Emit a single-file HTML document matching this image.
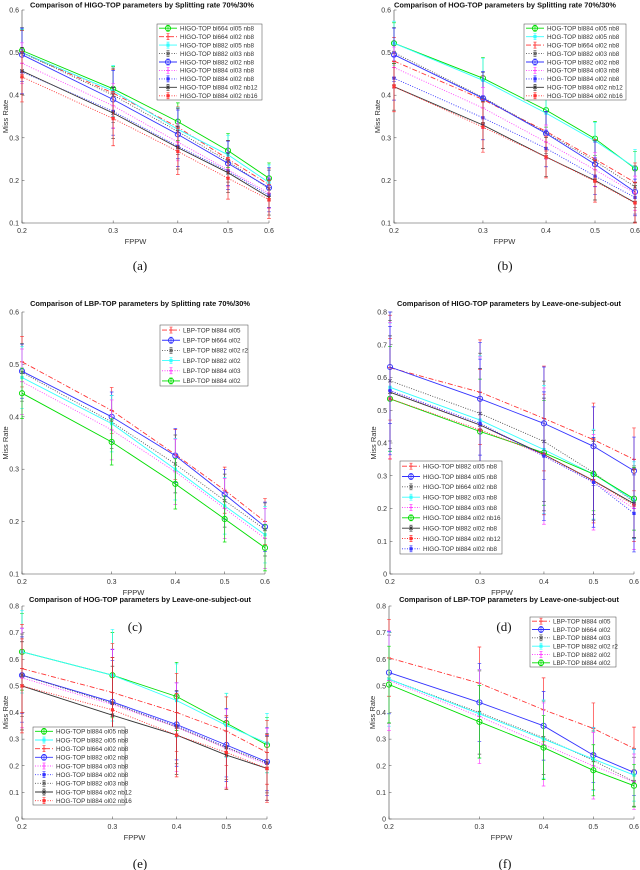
<!DOCTYPE html>
<html><head><meta charset="utf-8">
<style>
html,body{margin:0;padding:0;background:#fff;}
svg{display:block;font-family:"Liberation Sans",sans-serif;}
.cap{font-family:"Liberation Serif",serif;font-size:13px;}
</style></head>
<body>
<svg id="fig" width="640" height="870" viewBox="0 0 640 870" xmlns="http://www.w3.org/2000/svg"></svg>
<script>
// ---- data ----
const fppw = [0.2, 0.3, 0.4, 0.5, 0.6];
const xTickLabels = ["0.2","0.3","0.4","0.5","0.6"];
const yTicksA = [0.1,0.2,0.3,0.4,0.5,0.6];
const yTicksD = [0,0.1,0.2,0.3,0.4,0.5,0.6,0.7,0.8];

const aNames = ["HIGO-TOP bl664 ol05 nb8","HIGO-TOP bl664 ol02 nb8","HIGO-TOP bl882 ol05 nb8","HIGO-TOP bl882 ol03 nb8","HIGO-TOP bl882 ol02 nb8","HIGO-TOP bl884 ol03 nb8","HIGO-TOP bl884 ol02 nb8","HIGO-TOP bl884 ol02 nb12","HIGO-TOP bl884 ol02 nb16"];
const aVals = [
 [0.505,0.415,0.338,0.27,0.205],
 [0.5,0.405,0.325,0.25,0.19],
 [0.5,0.41,0.32,0.26,0.195],
 [0.5,0.4,0.315,0.245,0.18],
 [0.495,0.39,0.308,0.24,0.183],
 [0.475,0.375,0.29,0.225,0.17],
 [0.455,0.362,0.28,0.222,0.165],
 [0.457,0.358,0.277,0.218,0.16],
 [0.443,0.345,0.268,0.205,0.155]];
const aErr = [0.06,0.065,0.055,0.05,0.045];

const bNames = ["HOG-TOP bl884 ol05 nb8","HOG-TOP bl882 ol05 nb8","HOG-TOP bl664 ol02 nb8","HOG-TOP bl882 ol03 nb8","HOG-TOP bl882 ol02 nb8","HOG-TOP bl884 ol03 nb8","HOG-TOP bl884 ol02 nb8","HOG-TOP bl884 ol02 nb12","HOG-TOP bl884 ol02 nb16"];
const bVals = [
 [0.522,0.44,0.365,0.298,0.228],
 [0.522,0.435,0.358,0.293,0.23],
 [0.48,0.39,0.315,0.25,0.195],
 [0.5,0.395,0.312,0.245,0.185],
 [0.495,0.393,0.31,0.238,0.173],
 [0.465,0.37,0.29,0.225,0.17],
 [0.44,0.347,0.275,0.21,0.16],
 [0.42,0.33,0.255,0.2,0.148],
 [0.42,0.325,0.255,0.198,0.147]];
const bErr = [0.06,0.06,0.05,0.05,0.05];

const cNames = ["LBP-TOP bl884 ol05","LBP-TOP bl664 ol02","LBP-TOP bl882 ol02 r2","LBP-TOP bl882 ol02","LBP-TOP bl884 ol03","LBP-TOP bl884 ol02"];
const cVals = [
 [0.505,0.412,0.328,0.26,0.2],
 [0.487,0.4,0.326,0.252,0.19],
 [0.485,0.39,0.31,0.24,0.185],
 [0.475,0.387,0.3,0.23,0.175],
 [0.467,0.375,0.295,0.225,0.168],
 [0.445,0.352,0.272,0.205,0.15]];
const cErr = [0.06,0.055,0.06,0.055,0.055];

const dNames = ["HIGO-TOP bl882 ol05 nb8","HIGO-TOP bl884 ol05 nb8","HIGO-TOP bl664 ol02 nb8","HIGO-TOP bl882 ol03 nb8","HIGO-TOP bl884 ol03 nb8","HIGO-TOP bl884 ol02 nb16","HIGO-TOP bl882 ol02 nb8","HIGO-TOP bl884 ol02 nb12","HIGO-TOP bl884 ol02 nb8"];
const dVals = [
 [0.63,0.555,0.475,0.41,0.35],
 [0.632,0.535,0.46,0.39,0.315],
 [0.59,0.49,0.405,0.31,0.22],
 [0.57,0.47,0.38,0.305,0.225],
 [0.56,0.455,0.36,0.28,0.2],
 [0.535,0.435,0.37,0.305,0.23],
 [0.555,0.455,0.365,0.285,0.215],
 [0.535,0.44,0.365,0.285,0.21],
 [0.56,0.46,0.36,0.28,0.185]];
const dErr = [0.2,0.2,0.2,0.14,0.12];

const eNames = ["HOG-TOP bl884 ol05 nb8","HOG-TOP bl882 ol05 nb8","HOG-TOP bl664 ol02 nb8","HOG-TOP bl882 ol02 nb8","HOG-TOP bl884 ol03 nb8","HOG-TOP bl884 ol02 nb8","HOG-TOP bl882 ol03 nb8","HOG-TOP bl884 ol02 nb12","HOG-TOP bl884 ol02 nb16"];
const eVals = [
 [0.628,0.54,0.46,0.36,0.278],
 [0.628,0.54,0.445,0.352,0.285],
 [0.565,0.475,0.4,0.33,0.25],
 [0.54,0.44,0.355,0.278,0.215],
 [0.53,0.43,0.345,0.265,0.205],
 [0.54,0.435,0.35,0.27,0.21],
 [0.54,0.435,0.345,0.268,0.21],
 [0.5,0.39,0.315,0.24,0.19],
 [0.5,0.41,0.315,0.25,0.19]];
const eErr = [0.18,0.2,0.16,0.14,0.13];

const fNames = ["LBP-TOP bl884 ol05","LBP-TOP bl664 ol02","LBP-TOP bl884 ol03","LBP-TOP bl882 ol02 r2","LBP-TOP bl882 ol02","LBP-TOP bl884 ol02"];
const fVals = [
 [0.605,0.51,0.41,0.34,0.265],
 [0.55,0.438,0.35,0.24,0.175],
 [0.525,0.4,0.305,0.22,0.14],
 [0.525,0.395,0.3,0.225,0.165],
 [0.52,0.385,0.28,0.2,0.14],
 [0.505,0.365,0.268,0.183,0.125]];
const fErr = [0.18,0.17,0.15,0.12,0.1];

// ---- styles ----
const S = {
 gO:{c:"#00dd00",d:"",m:"o"}, rDD:{c:"#ff3333",d:"5,2,1,2",m:"+"}, cy:{c:"#33ffff",d:"",m:"s"},
 kDot:{c:"#555",d:"1,1.5",m:"x"}, bO:{c:"#3333ff",d:"",m:"o"}, mDot:{c:"#ff44ff",d:"1,1.5",m:"+"},
 bDot:{c:"#3333ff",d:"1,1.5",m:"s"}, k:{c:"#333",d:"",m:"x"}, rDot:{c:"#ff3333",d:"1,1.5",m:"s"}
};
const aSty=[S.gO,S.rDD,S.cy,S.kDot,S.bO,S.mDot,S.bDot,S.k,S.rDot];
const bSty=[S.gO,S.cy,S.rDD,S.kDot,S.bO,S.mDot,S.bDot,S.k,S.rDot];
const cSty=[S.rDD,S.bO,S.kDot,S.cy,S.mDot,S.gO];
const dSty=[S.rDD,S.bO,S.kDot,S.cy,S.mDot,S.gO,S.k,S.rDot,S.bDot];
const eSty=[S.gO,S.cy,S.rDD,S.bO,S.mDot,S.bDot,S.kDot,S.k,S.rDot];
const fSty=[S.rDD,S.bO,S.kDot,S.cy,S.mDot,S.gO];

const NS="http://www.w3.org/2000/svg";
const fig=document.getElementById('fig');
function mk(tag,attrs,parent){const e=document.createElementNS(NS,tag);for(const k in attrs)e.setAttribute(k,attrs[k]);(parent||fig).appendChild(e);return e;}

function marker(g,m,x,y,c){
 let e;
 if(m==="o") e=mk('circle',{cx:x,cy:y,r:2.6,fill:'none',stroke:c,'stroke-width':0.9},g);
 else if(m==="s") e=mk('rect',{x:x-1.6,y:y-1.6,width:3.2,height:3.2,fill:c},g);
 else if(m==="+") e=mk('path',{d:`M${x-2} ${y}H${x+2}M${x} ${y-2}V${y+2}`,stroke:c,'stroke-width':0.9},g);
 else e=mk('path',{d:`M${x-1.6} ${y-1.6}L${x+1.6} ${y+1.6}M${x-1.6} ${y+1.6}L${x+1.6} ${y-1.6}`,stroke:c,'stroke-width':0.9},g);
 
 
}

function panel(p){
 const g=mk('g',{});
 
 
 const lx0=Math.log(0.2), lx1=Math.log(0.6);
 const X=v=>p.x0+(Math.log(v)-lx0)/(lx1-lx0)*(p.x1-p.x0);
 const Y=v=>p.yb+(v-p.ymin)/(p.ymax-p.ymin)*(p.yt-p.yb);
 const ax=mk('path',{d:`M${p.x0} ${p.yt}V${p.yb}H${p.x1}`,fill:'none',stroke:'#444','stroke-width':0.6},g);
 
 
 p.yticks.forEach(t=>{
  const y=Y(t);
  mk('line',{x1:p.x0,x2:p.x0+2.5,y1:y,y2:y,stroke:'#444','stroke-width':0.5},g);
  const tx=mk('text',{x:p.x0-3,y:y+2.5,'font-size':7,'text-anchor':'end',fill:'#333'},g);
  tx.textContent=String(t);
  
  
 });
 fppw.forEach((v,i)=>{
  const x=X(v);
  mk('line',{x1:x,x2:x,y1:p.yb,y2:p.yb-2.5,stroke:'#444','stroke-width':0.5},g);
  const tx=mk('text',{x:x,y:p.yb+10,'font-size':7,'text-anchor':'middle',fill:'#333'},g);
  tx.textContent=xTickLabels[i];
  
  
 });
 const xt=mk('text',{x:(p.x0+p.x1)/2-10,y:p.yb+21,'font-size':7.5,'text-anchor':'middle',fill:'#333'},g);
 xt.textContent='FPPW';
 
 
 const yc=(p.yt+p.yb)/2;
 const yt=mk('text',{x:p.x0-14,y:yc,'font-size':7.5,'text-anchor':'middle',fill:'#333',transform:`rotate(-90 ${p.x0-14} ${yc})`},g);
 yt.textContent='Miss Rate';
 
 
 const ti=mk('text',{x:p.tx,y:p.ty,'font-size':7.4,'font-weight':'bold','text-anchor':'middle',fill:'#111'},g);
 ti.textContent=p.title;
 
 
 p.vals.forEach((vals,si)=>{
  const st=p.sty[si];
  const sg=mk('g',{},g);
  
  
  const pts=vals.map((v,i)=>X(fppw[i]).toFixed(1)+','+Y(v).toFixed(1)).join(' ');
  const ln=mk('polyline',{points:pts,fill:'none',stroke:st.c,'stroke-width':0.9,'stroke-dasharray':st.d||'none'},sg);
  
  
  vals.forEach((v,i)=>{
   const x=X(fppw[i]);
   const e=p.err[i]*(0.8+0.06*(si%5));
   const hi=Math.min(v+e,p.ymax), lo=Math.max(v-e,p.ymin);
   const eb=mk('path',{d:`M${x} ${Y(hi)}V${Y(lo)}M${x-1.8} ${Y(hi)}H${x+1.8}M${x-1.8} ${Y(lo)}H${x+1.8}`,stroke:st.c,'stroke-width':0.7},sg);
   
   
   marker(sg,st.m,x,Y(v),st.c);
  });
 });
 const L=p.leg;
 const lg=mk('g',{},g);
 
 
 mk('rect',{x:L.x,y:L.y,width:L.w,height:L.h,fill:'#fff',stroke:'#444','stroke-width':0.5},lg);
 const step=L.h/p.names.length;
 p.names.forEach((n,i)=>{
  const st=p.sty[i];
  const y=L.y+step*(i+0.5);
  const eg=mk('g',{},lg);
  
  
  mk('line',{x1:L.x+2,x2:L.x+20,y1:y,y2:y,stroke:st.c,'stroke-width':0.9,'stroke-dasharray':st.d||'none'},eg);
  mk('path',{d:`M${L.x+11} ${y-3}V${y+3}M${L.x+9.5} ${y-3}H${L.x+12.5}M${L.x+9.5} ${y+3}H${L.x+12.5}`,stroke:st.c,'stroke-width':0.7},eg);
  marker(eg,st.m,L.x+11,y,st.c);
  const t=mk('text',{x:L.x+23,y:y+2.3,'font-size':6.3,fill:'#333'},eg);
  t.textContent=n;
 });
 const cap=mk('text',{x:p.cx,y:p.cy,'text-anchor':'middle',class:'cap',fill:'#111'});
 cap.textContent=p.cap;
 
 
}

panel({id:'a',x0:22,x1:269,yt:10,yb:223,ymin:0.1,ymax:0.6,yticks:yTicksA,tx:142,ty:7.5,title:'Comparison of HIGO-TOP parameters by Splitting rate 70%/30%',
 vals:aVals,err:aErr,sty:aSty,names:aNames,leg:{x:157,y:24,w:105,h:76},cap:'(a)',cx:140,cy:270});
panel({id:'b',x0:394,x1:635,yt:10,yb:223,ymin:0.1,ymax:0.6,yticks:yTicksA,tx:505,ty:7.5,title:'Comparison of HOG-TOP parameters by Splitting rate 70%/30%',
 vals:bVals,err:bErr,sty:bSty,names:bNames,leg:{x:524,y:24,w:102,h:76},cap:'(b)',cx:505,cy:270});
panel({id:'c',x0:22,x1:265,yt:312,yb:574,ymin:0.1,ymax:0.6,yticks:yTicksA,tx:140,ty:306,title:'Comparison of LBP-TOP parameters by Splitting rate 70%/30%',
 vals:cVals,err:cErr,sty:cSty,names:cNames,leg:{x:160,y:325,w:88,h:61},cap:'(c)',cx:135,cy:631});
panel({id:'d',x0:390,x1:634,yt:312,yb:574,ymin:0,ymax:0.8,yticks:yTicksD,tx:509,ty:306,title:'Comparison of HIGO-TOP parameters by Leave-one-subject-out',
 vals:dVals,err:dErr,sty:dSty,names:dNames,leg:{x:400,y:461,w:102,h:93},cap:'(d)',cx:504,cy:631});
panel({id:'e',x0:22,x1:267,yt:606,yb:819,ymin:0,ymax:0.8,yticks:yTicksD,tx:140,ty:602,title:'Comparison of HOG-TOP parameters by Leave-one-subject-out',
 vals:eVals,err:eErr,sty:eSty,names:eNames,leg:{x:33,y:727,w:92,h:78},cap:'(e)',cx:140,cy:868});
panel({id:'f',x0:389,x1:634,yt:606,yb:819,ymin:0,ymax:0.8,yticks:yTicksD,tx:509,ty:602,title:'Comparison of LBP-TOP parameters by Leave-one-subject-out',
 vals:fVals,err:fErr,sty:fSty,names:fNames,leg:{x:530,y:617,w:86,h:50},cap:'(f)',cx:505,cy:868});
</script>
</body></html>
